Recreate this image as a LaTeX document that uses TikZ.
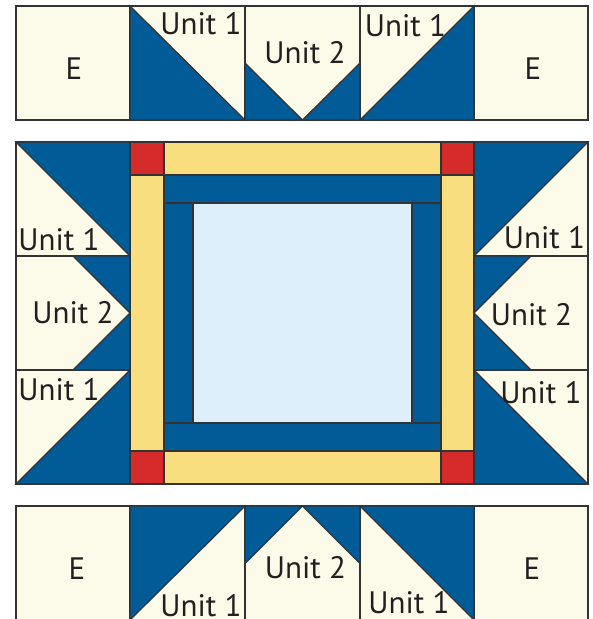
\documentclass[tikz,border=0pt]{standalone}
\usepackage{fontspec}
\setmainfont{PT Sans}
\definecolor{cream}{HTML}{FCFAE8}
\definecolor{qblue}{HTML}{005B96}
\definecolor{qred}{HTML}{D52B2B}
\definecolor{qyellow}{HTML}{F9DE80}
\definecolor{qlight}{HTML}{DCEFFB}
\definecolor{edge}{HTML}{333333}
\definecolor{txt}{HTML}{231F20}
\begin{document}
\begin{tikzpicture}[x=1pt,y=-1pt,
  piece/.style={draw=edge,line width=1.2pt,line join=miter},
  cr/.style={piece,fill=cream},
  bl/.style={piece,fill=qblue},
  ye/.style={piece,fill=qyellow},
  rd/.style={piece,fill=qred},
  lb/.style={piece,fill=qlight},
  lab/.style={font=\fontsize{31}{31}\selectfont,text=txt,inner sep=0pt}]
\useasboundingbox (0,0) rectangle (593,619);
\clip (0,0) rectangle (593,619);
\fill[white] (0,0) rectangle (593,619);
% ---------- top row ----------
\foreach \a/\b in {16/130,130/245,245/360,360/474,474/588}
  \draw[cr] (\a,6) rectangle (\b,120);
\draw[bl] (130,6) -- (245,120) -- (130,120) -- cycle;
\draw[bl] (245,63) -- (302.5,120) -- (245,120) -- cycle;
\draw[bl] (360,63) -- (302.5,120) -- (360,120) -- cycle;
\draw[bl] (474,6) -- (474,120) -- (360,120) -- cycle;
% ---------- middle left / right ----------
\foreach \a/\b in {142/256,256/370,370/484}{
  \draw[cr] (16,\a) rectangle (130,\b);
  \draw[cr] (474,\a) rectangle (588,\b);}
\draw[bl] (16,142) -- (130,142) -- (130,256) -- cycle;
\draw[bl] (73,256) -- (130,256) -- (130,313) -- cycle;
\draw[bl] (73,370) -- (130,370) -- (130,313) -- cycle;
\draw[bl] (130,370) -- (130,484) -- (16,484) -- cycle;
\draw[bl] (474,142) -- (588,142) -- (474,256) -- cycle;
\draw[bl] (474,256) -- (531,256) -- (474,313) -- cycle;
\draw[bl] (474,370) -- (531,370) -- (474,313) -- cycle;
\draw[bl] (474,370) -- (588,484) -- (474,484) -- cycle;
% ---------- centre log cabin ----------
\draw[ye] (164,142) rectangle (441,175);
\draw[ye] (164,451) rectangle (441,484);
\draw[ye] (130,175) rectangle (164,451);
\draw[ye] (441,175) rectangle (474,451);
\draw[rd] (130,142) rectangle (164,175);
\draw[rd] (441,142) rectangle (474,175);
\draw[rd] (130,451) rectangle (164,484);
\draw[rd] (441,451) rectangle (474,484);
\draw[bl] (164,175) rectangle (441,203);
\draw[bl] (164,423) rectangle (441,451);
\draw[bl] (164,203) rectangle (193,423);
\draw[bl] (412,203) rectangle (441,423);
\draw[lb] (193,203) rectangle (412,423);
% ---------- bottom row ----------
\foreach \a/\b in {16/130,130/245,245/360,360/474,474/588}
  \draw[cr] (\a,506) rectangle (\b,630);
\draw[bl] (130,506) -- (245,506) -- (130,620) -- cycle;
\draw[bl] (245,506) -- (302.5,506) -- (245,563.5) -- cycle;
\draw[bl] (360,506) -- (302.5,506) -- (360,563.5) -- cycle;
\draw[bl] (360,506) -- (474,506) -- (474,620) -- cycle;
% ---------- labels ----------
\node[lab] (tE1) at (74,69) {E};
\node[lab] (tU1a) at (201,24) {Unit 1};
\node[lab] (tU2) at (305,52.5) {Unit 2};
\node[lab] (tU1b) at (405.5,26) {Unit 1};
\node[lab] (tE2) at (533,69) {E};
\node[lab] (lU1a) at (59,239.5) {Unit 1};
\node[lab] (lU2) at (73,312.5) {Unit 2};
\node[lab] (lU1b) at (59,389.5) {Unit 1};
\node[lab] (rU1a) at (544.5,237.5) {Unit 1};
\node[lab] (rU2) at (531.5,315) {Unit 2};
\node[lab] (rU1b) at (541,392.5) {Unit 1};
\node[lab] (bE1) at (77,569) {E};
\node[lab] (bU1a) at (201,606) {Unit 1};
\node[lab] (bU2) at (305.5,567.5) {Unit 2};
\node[lab] (bU1b) at (409,602.5) {Unit 1};
\node[lab] (bE2) at (532,568.5) {E};
\end{tikzpicture}
\end{document}
